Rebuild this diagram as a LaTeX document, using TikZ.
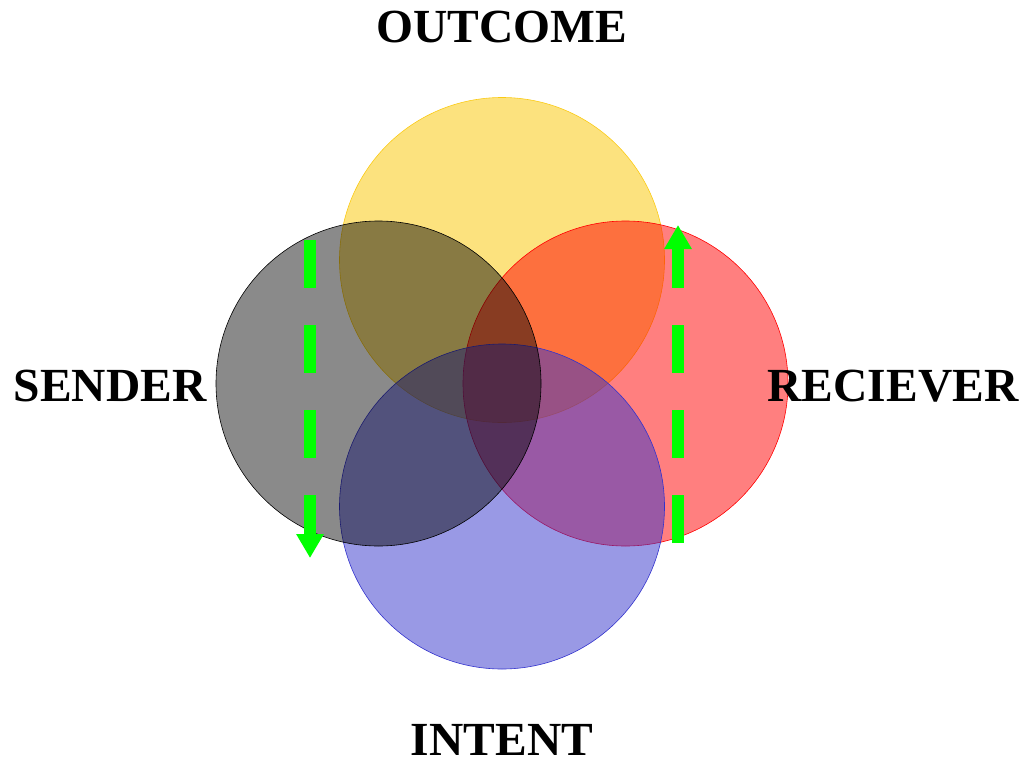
\documentclass[tikz,border=0pt]{standalone}
\usepackage{fontspec}
\setmainfont{Liberation Serif}
\usetikzlibrary{arrows.meta}
\definecolor{cyellow}{RGB}{250,202,20}
\definecolor{cblue}{RGB}{51,51,204}
\definecolor{cgreen}{RGB}{0,255,0}
\begin{document}
\begin{tikzpicture}[x=1pt,y=-1pt,
  venn/.style={circle,minimum size=325pt,inner sep=0pt,line width=0.6pt},
  lbl/.style={font=\bfseries\fontsize{47.5}{50}\selectfont,anchor=base,inner sep=0pt},
  flow/.style={draw=cgreen,line width=12pt,dash pattern=on 48pt off 37pt,-{Triangle[width=26pt,length=24pt]}}]
\useasboundingbox (0,0) rectangle (1027,765);
\node[venn,draw=cyellow,fill=cyellow,fill opacity=0.55] (outcome) at (502,260) {};
\node[venn,draw=red,fill=red,fill opacity=0.5] (reciever) at (625.5,383.5) {};
\node[venn,draw=cblue,fill=cblue,fill opacity=0.5] (intent) at (502,506.5) {};
\node[venn,draw=black,fill=black,fill opacity=0.46] (sender) at (378.5,383.5) {};
\node[lbl] (tout) at (502,43) {OUTCOME};
\node[lbl] (tsend) at (110,401) {SENDER};
\node[lbl] (trec) at (893,401) {RECIEVER};
\node[lbl] (tint) at (502,755) {INTENT};
\coordinate (a1) at (310,240);
\coordinate (a2) at (310,558);
\coordinate (b1) at (678,543);
\coordinate (b2) at (678,225);
\draw[flow] (a1) -- (a2);
\draw[flow] (b1) -- (b2);
\end{tikzpicture}
\end{document}
